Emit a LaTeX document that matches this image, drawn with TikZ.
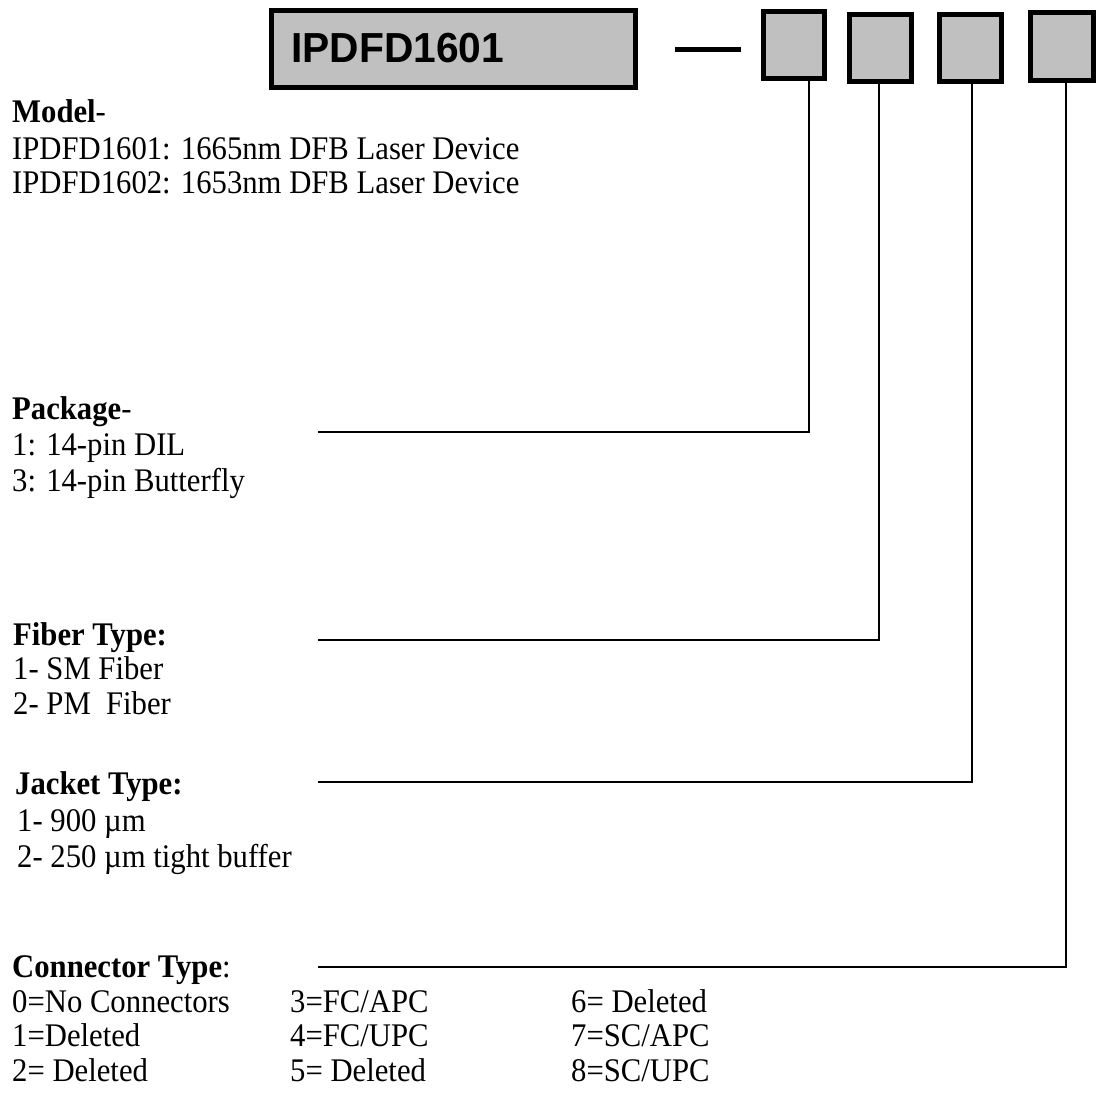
\documentclass[tikz,border=0pt]{standalone}
\usepackage{fontspec}
\setmainfont{Liberation Serif}[FakeStretch=0.93]
\newfontfamily\boxfont{Liberation Sans}[FakeStretch=0.97]
\definecolor{boxgray}{HTML}{C0C0C0}
\begin{document}
\begin{tikzpicture}[x=1pt,y=-1pt,
  cell/.style={draw=black, line width=5pt, fill=boxgray, inner sep=0pt},
  lbl/.style={anchor=base west, inner sep=0pt, font=\fontsize{33}{35}\selectfont},
  lead/.style={line width=1.5pt},
  bar/.style={line width=5pt}]
\useasboundingbox (0,0) rectangle (1096,1100);
% code boxes
\node[cell, minimum width=364pt, minimum height=77pt] (big) at (453.5,49) {};
\node[anchor=base west, inner sep=0pt, font=\boxfont\bfseries\fontsize{42}{42}\selectfont] (code) at (291,62) {IPDFD1601};
\coordinate (d1) at (675,49);
\coordinate (d2) at (741,49);
\draw[bar] (d1) -- (d2);
\node[cell, minimum width=61pt, minimum height=67pt] (b1) at (794,45) {};
\node[cell, minimum width=62pt, minimum height=67pt] (b2) at (880.5,48) {};
\node[cell, minimum width=62pt, minimum height=67pt] (b3) at (970.5,48) {};
\node[cell, minimum width=63pt, minimum height=68pt] (b4) at (1062,46.5) {};
\coordinate (t1) at (809,80);
\coordinate (t2) at (879,83);
\coordinate (t3) at (972,83);
\coordinate (t4) at (1066,82);
% labels
\node[lbl] (m0) at (12,122) {\textbf{Model}-};
\node[lbl] (m1) at (12,159) {IPDFD1601: 1665nm DFB Laser Device};
\node[lbl] (m2) at (12,193) {IPDFD1602: 1653nm DFB Laser Device};
\node[lbl] (p0) at (12,419) {\textbf{Package}-};
\node[lbl] (p1) at (12,455) {1: 14-pin DIL};
\node[lbl] (p2) at (12,491) {3: 14-pin Butterfly};
\node[lbl] (f0) at (13,645) {\textbf{Fiber Type:}};
\node[lbl] (f1) at (13,679) {1- SM Fiber};
\node[lbl] (f2) at (13,714) {2- PM\ \ Fiber};
\node[lbl] (j0) at (15,794) {\textbf{Jacket Type:}};
\node[lbl] (j1) at (17,831) {1- 900 µm};
\node[lbl] (j2) at (17,867) {2- 250 µm tight buffer};
\node[lbl] (c0) at (12,977) {\textbf{Connector Type}:};
\node[lbl] (c1) at (12,1012) {0=No Connectors};
\node[lbl] (c2) at (12,1046) {1=Deleted};
\node[lbl] (c3) at (12,1081) {2= Deleted};
\node[lbl] (c4) at (290,1012) {3=FC/APC};
\node[lbl] (c5) at (290,1046) {4=FC/UPC};
\node[lbl] (c6) at (290,1081) {5= Deleted};
\node[lbl] (c7) at (571,1012) {6= Deleted};
\node[lbl] (c8) at (571,1046) {7=SC/APC};
\node[lbl] (c9) at (571,1081) {8=SC/UPC};
% leader lines
\coordinate (s1) at (318,432);
\coordinate (s2) at (318,640);
\coordinate (s3) at (318,782);
\coordinate (s4) at (318,967);
\draw[lead] (s1) -| (t1);
\draw[lead] (s2) -| (t2);
\draw[lead] (s3) -| (t3);
\draw[lead] (s4) -| (t4);
\end{tikzpicture}
\end{document}
